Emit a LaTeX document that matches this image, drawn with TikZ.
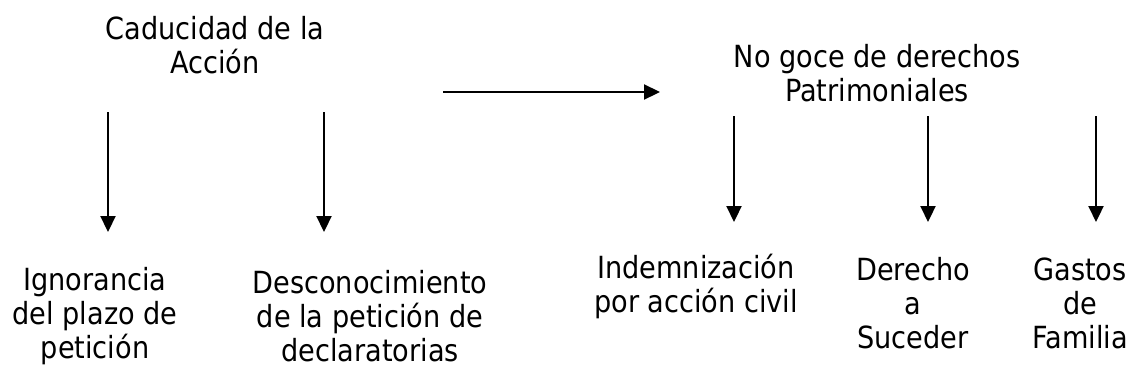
\documentclass[tikz,border=0pt]{standalone}
\usepackage{fontspec}
\setmainfont{DejaVu Sans}[FakeStretch=0.89]
\usetikzlibrary{arrows.meta}
\begin{document}
\begin{tikzpicture}[x=1pt,y=-1pt,
  lbl/.style={align=center,inner sep=0pt,font=\fontsize{30.5}{34}\selectfont,anchor=center},
  arr/.style={line width=2.2pt,-{Triangle[length=16pt,width=15pt]}}]
\useasboundingbox (0,0) rectangle (1139,381);
\node[lbl] (cad) at (215,45) {Caducidad de la\\Acción};
\node[lbl] (nog) at (877,73) {No goce de derechos\\Patrimoniales};
\coordinate (h1) at (443,92);
\coordinate (h2) at (660,92);
\draw[arr] (h1) -- (h2);
\coordinate (a1s) at (108,112); \coordinate (a1e) at (108,232);
\coordinate (a2s) at (324,112); \coordinate (a2e) at (324,232);
\coordinate (a3s) at (734,116); \coordinate (a3e) at (734,222);
\coordinate (a4s) at (928,116); \coordinate (a4e) at (928,222);
\coordinate (a5s) at (1096,116); \coordinate (a5e) at (1096,222);
\draw[arr] (a1s) -- (a1e);
\draw[arr] (a2s) -- (a2e);
\draw[arr] (a3s) -- (a3e);
\draw[arr] (a4s) -- (a4e);
\draw[arr] (a5s) -- (a5e);
\node[lbl] (ign) at (95,316) {Ignorancia\\del plazo de\\petición};
\node[lbl] (des) at (370,316) {Desconocimiento\\de la petición de\\declaratorias};
\node[lbl] (ind) at (696,286) {Indemnización\\por acción civil};
\node[lbl] (der) at (913,303) {Derecho\\a\\Suceder};
\node[lbl] (gas) at (1080,303) {Gastos\\de\\Familia};
\end{tikzpicture}
\end{document}
